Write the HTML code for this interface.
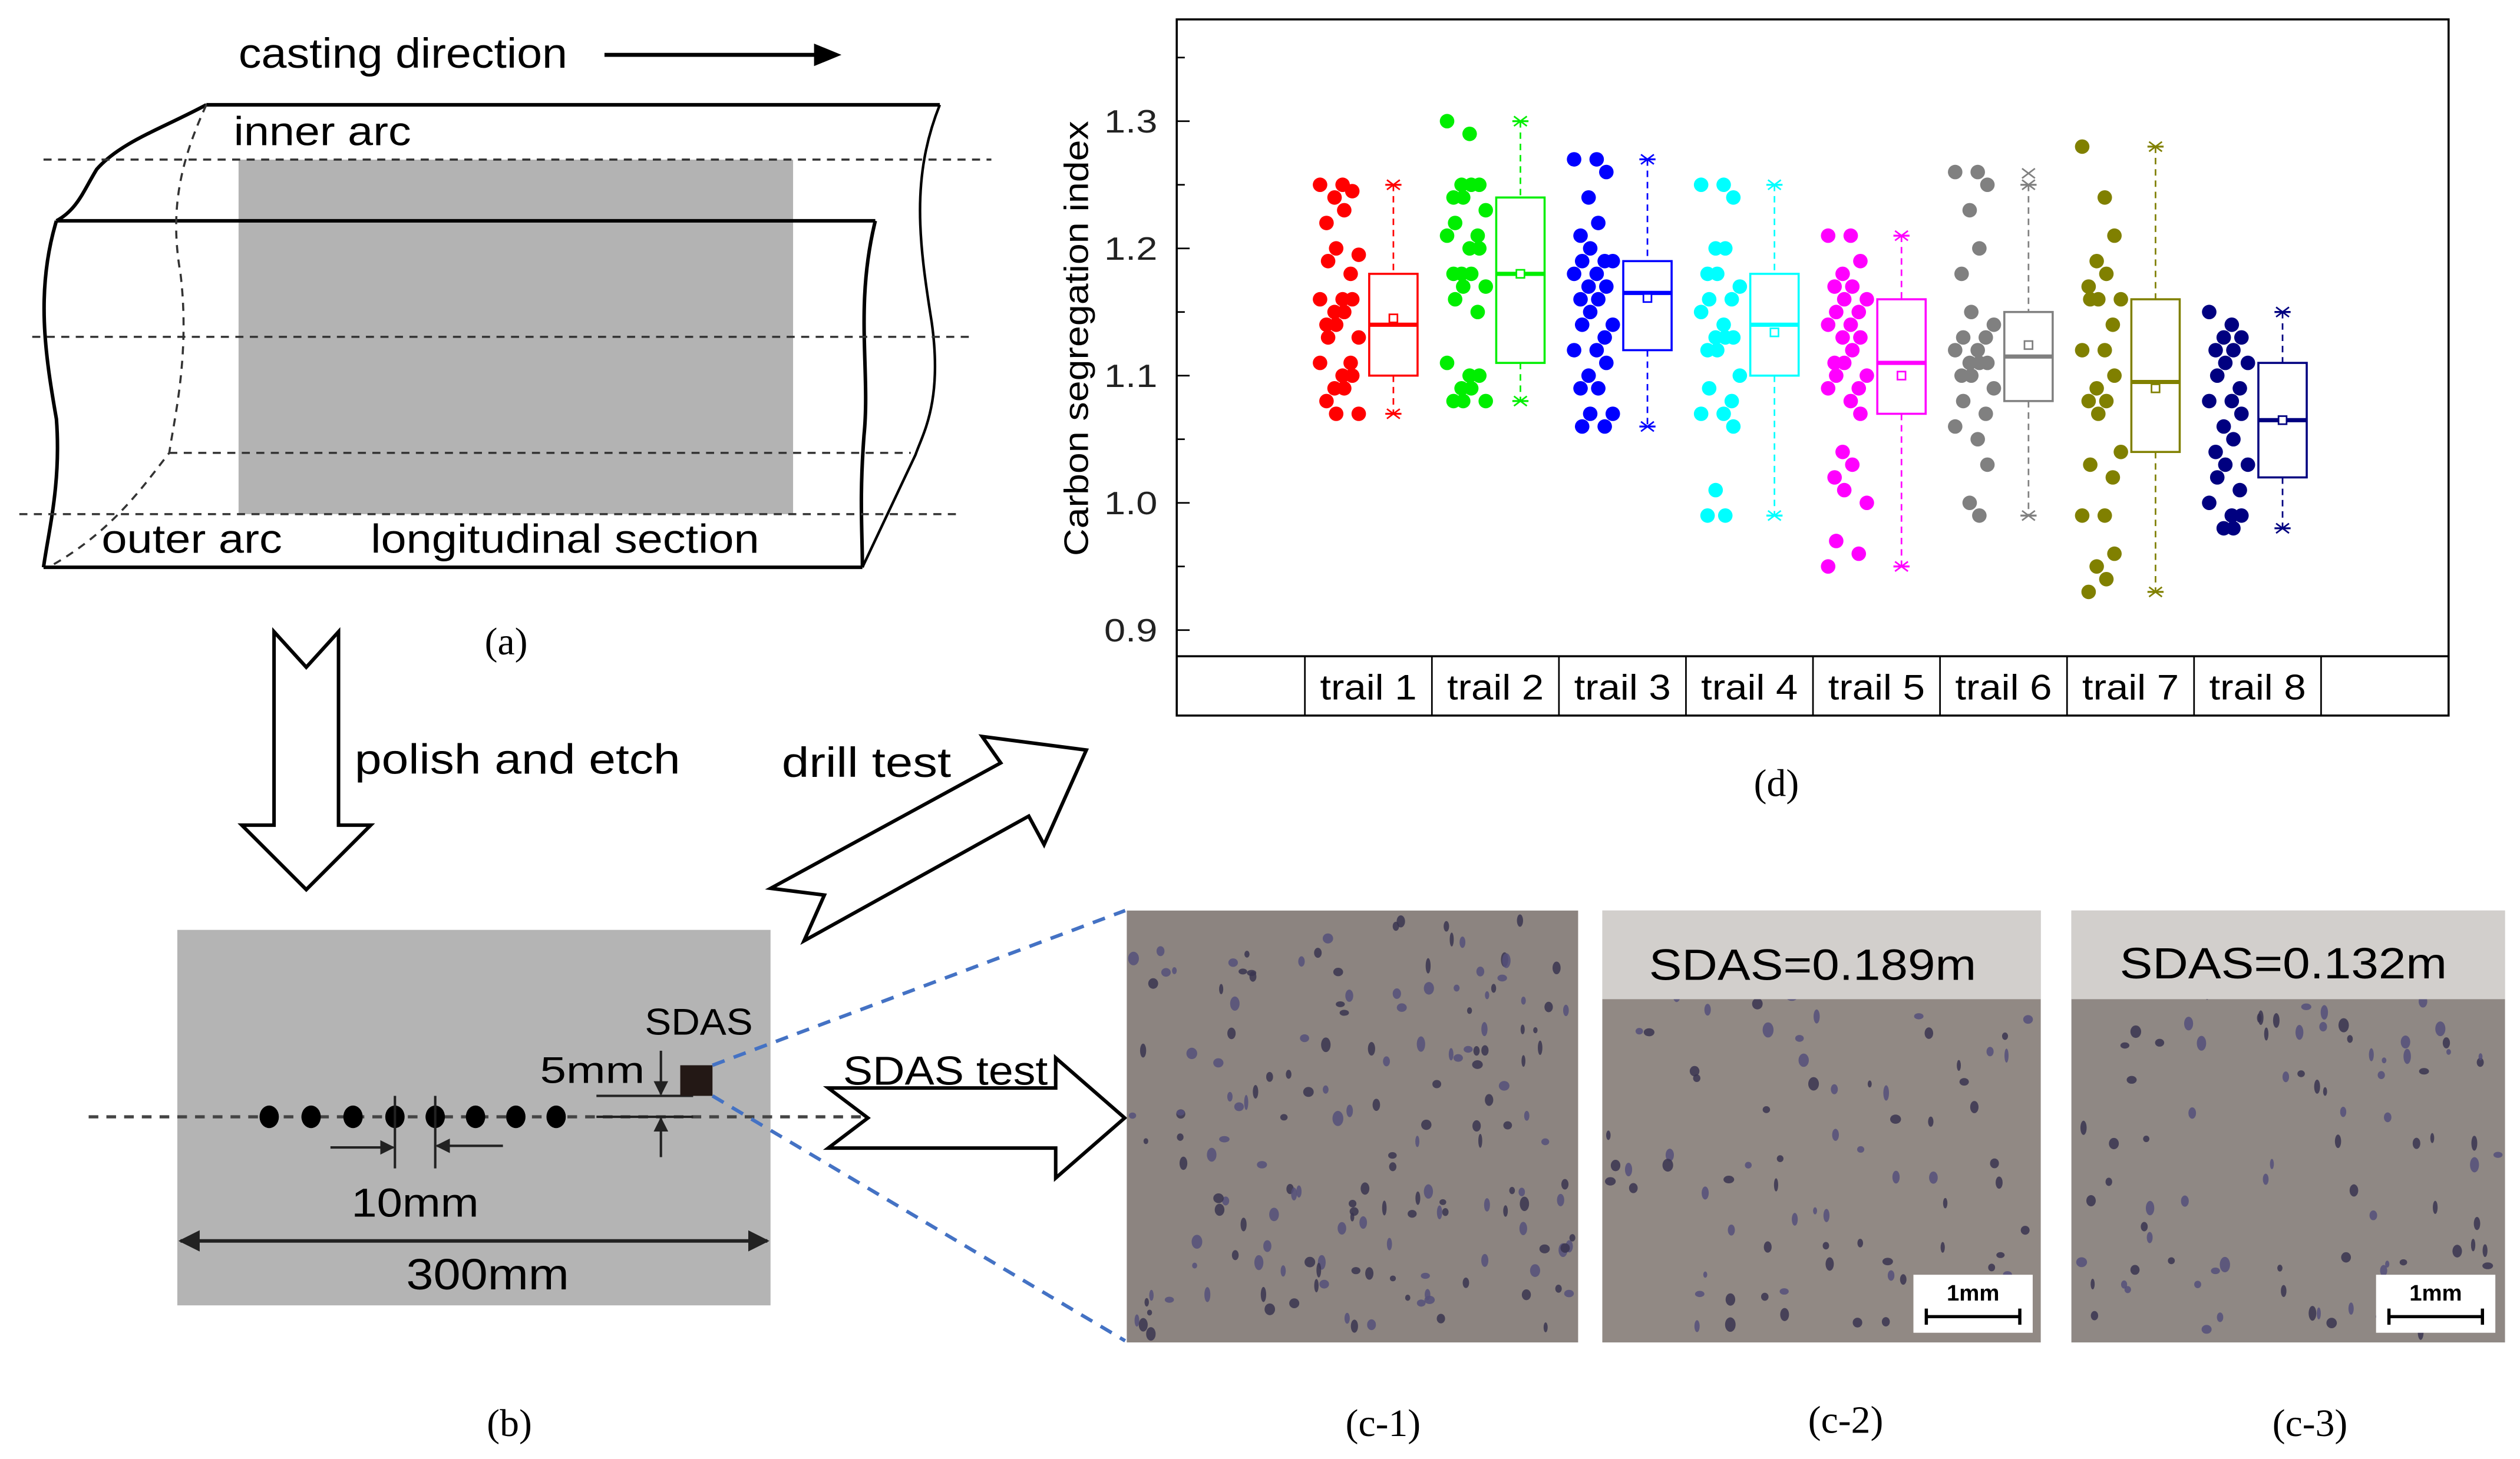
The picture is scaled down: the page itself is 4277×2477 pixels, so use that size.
<!DOCTYPE html>
<html><head><meta charset="utf-8"><title>Carbon segregation figure</title>
<style>html,body{margin:0;padding:0;background:#fff}svg{display:block}text{font-family:"Liberation Sans",sans-serif}</style>
</head><body>
<svg id="root" xmlns="http://www.w3.org/2000/svg" width="4277" height="2477" viewBox="0 0 1563.3 905.3">
<defs>
<marker id="ah" viewBox="0 0 10 10" refX="9" refY="5" markerWidth="6" markerHeight="6" orient="auto-start-reverse"><path d="M0,0 L10,5 L0,10 z" fill="#222"/></marker>
</defs>
<g>
<text x="148" y="42" font-size="26" textLength="204" lengthAdjust="spacingAndGlyphs">casting direction</text>
<line x1="375" y1="34" x2="508" y2="34" stroke="#000" stroke-width="2.5"/>
<path d="M505,27 L522,34 L505,41 z" fill="#000"/>
<rect x="148" y="99" width="344" height="220" fill="#b3b3b3"/>
<g stroke="#000" stroke-width="2.2" fill="none">
<line x1="128" y1="65" x2="583" y2="65"/>
<line x1="35" y1="137" x2="543" y2="137"/>
<line x1="27" y1="352" x2="535" y2="352"/>
<path d="M35,137 C48,130 52,118 60,105 C75,88 100,80 128,65"/>
<path d="M35,137 C22,180 28,220 35,260 C38,300 30,330 27,352"/>
<path d="M543,137 C530,190 540,230 536,270 C533,310 535,330 535,352"/>
<path d="M583,65 C565,110 570,150 578,200 C585,250 572,270 568,282 L535,352" stroke-width="1.6"/>
</g>
<g stroke="#333" stroke-width="1.3" fill="none" stroke-dasharray="5,4">
<path d="M128,65 C112,100 105,130 112,170 C118,220 108,260 105,281 C90,300 70,330 30,352"/>
<line x1="27" y1="99" x2="615" y2="99"/>
<line x1="20" y1="209" x2="605" y2="209"/>
<line x1="105" y1="281" x2="565" y2="281"/>
<line x1="12" y1="319" x2="597" y2="319"/>
</g>
<text x="145" y="90" font-size="25" textLength="110" lengthAdjust="spacingAndGlyphs">inner arc</text>
<text x="63" y="343" font-size="25" textLength="112" lengthAdjust="spacingAndGlyphs">outer arc</text>
<text x="230" y="343" font-size="25" textLength="241" lengthAdjust="spacingAndGlyphs">longitudinal section</text>
<text x="314" y="406" font-size="24" text-anchor="middle" style="font-family:'Liberation Serif',serif">(a)</text>
</g>
<path d="M170,392 L190,414 L210,392 L210,512 L230,512 L190,552 L150,512 L170,512 Z" fill="#fff" stroke="#000" stroke-width="2.2"/>
<text x="220" y="480" font-size="26" textLength="202" lengthAdjust="spacingAndGlyphs">polish and etch</text>
<g>
<rect x="110" y="577" width="368" height="233" fill="#b4b4b4"/>
<line x1="55" y1="693" x2="540" y2="693" stroke="#444" stroke-width="2" stroke-dasharray="6,5"/>
<g fill="#000">
<ellipse cx="167" cy="693" rx="6" ry="7"/><ellipse cx="193" cy="693" rx="6" ry="7"/><ellipse cx="219" cy="693" rx="6" ry="7"/><ellipse cx="245" cy="693" rx="6" ry="7"/><ellipse cx="270" cy="693" rx="6" ry="7"/><ellipse cx="295" cy="693" rx="6" ry="7"/><ellipse cx="320" cy="693" rx="6" ry="7"/><ellipse cx="345" cy="693" rx="6" ry="7"/>
</g>
<g stroke="#222" stroke-width="1.5">
<line x1="245" y1="680" x2="245" y2="725"/><line x1="270" y1="680" x2="270" y2="725"/>
<line x1="205" y1="712" x2="244" y2="712" marker-end="url(#ah)"/>
<line x1="312" y1="711" x2="271" y2="711" marker-end="url(#ah)"/>
<line x1="370" y1="680" x2="430" y2="680"/><line x1="370" y1="693" x2="430" y2="693"/>
<line x1="410" y1="652" x2="410" y2="679" marker-end="url(#ah)"/>
<line x1="410" y1="718" x2="410" y2="694" marker-end="url(#ah)"/>
<line x1="112" y1="770" x2="476" y2="770" stroke-width="2.2" marker-start="url(#ah)" marker-end="url(#ah)"/>
</g>
<rect x="422" y="661" width="20" height="19" fill="#231815"/>
<text x="400" y="642" font-size="23" textLength="67" lengthAdjust="spacingAndGlyphs">SDAS</text>
<text x="335" y="672" font-size="23" textLength="65" lengthAdjust="spacingAndGlyphs">5mm</text>
<text x="218" y="755" font-size="25" textLength="79" lengthAdjust="spacingAndGlyphs">10mm</text>
<text x="252" y="800" font-size="27" textLength="101" lengthAdjust="spacingAndGlyphs">300mm</text>
<text x="316" y="891" font-size="24" text-anchor="middle" style="font-family:'Liberation Serif',serif">(b)</text>
</g>
<g stroke="#4472c4" stroke-width="2.2" stroke-dasharray="8,6" fill="none">
<line x1="442" y1="661" x2="698" y2="565"/><line x1="442" y1="680" x2="698" y2="832"/>
</g>
<path d="M609.3,457 L673.9,465.4 L647.7,524.1 L638.2,506.4 L498.8,583.8 L511.4,555.4 L478.1,551.2 L620.8,473.4 Z" fill="#fff" stroke="#000" stroke-width="2.2"/>
<text x="485" y="482" font-size="26" textLength="105" lengthAdjust="spacingAndGlyphs">drill test</text>
<path d="M513.8,675.1 L654.9,675.1 L654.9,656.4 L697.7,693.7 L654.9,731 L654.9,712.4 L513.8,712.4 L538.4,693.7 Z" fill="#fff" stroke="#000" stroke-width="2.2"/>
<text x="523" y="673" font-size="25" textLength="127" lengthAdjust="spacingAndGlyphs">SDAS test</text>
<g id="photos">
<rect x="699" y="565" width="280" height="268" fill="#8c8480"/>
<rect x="994" y="565" width="272" height="268" fill="#918984"/>
<rect x="1285" y="565" width="269" height="268" fill="#8f8884"/>
<g id="spots"></g>
<rect x="994" y="565" width="272" height="55" fill="#d2cfcc"/>
<rect x="1285" y="565" width="269" height="55" fill="#d2cfcc"/>
<text x="1023" y="608" font-size="27" textLength="203" lengthAdjust="spacingAndGlyphs">SDAS=0.189m</text>
<text x="1315" y="607" font-size="27" textLength="203" lengthAdjust="spacingAndGlyphs">SDAS=0.132m</text>
<g>
<rect x="1187" y="791" width="74" height="36" fill="#fff"/>
<text x="1224" y="807" font-size="14" font-weight="bold" text-anchor="middle">1mm</text>
<path d="M1195,812 v10 M1195,817 H1253 M1253,812 v10" stroke="#000" stroke-width="2" fill="none"/>
</g>
<g>
<rect x="1474" y="791" width="74" height="36" fill="#fff"/>
<text x="1511" y="807" font-size="14" font-weight="bold" text-anchor="middle">1mm</text>
<path d="M1482,812 v10 M1482,817 H1540 M1540,812 v10" stroke="#000" stroke-width="2" fill="none"/>
</g>
</g>
<text x="858" y="891" font-size="24" text-anchor="middle" style="font-family:'Liberation Serif',serif">(c-1)</text>
<text x="1145" y="889" font-size="24" text-anchor="middle" style="font-family:'Liberation Serif',serif">(c-2)</text>
<text x="1433" y="891" font-size="24" text-anchor="middle" style="font-family:'Liberation Serif',serif">(c-3)</text>
<text x="1102" y="494" font-size="24" text-anchor="middle" style="font-family:'Liberation Serif',serif">(d)</text>
<g id="chart"></g>
</svg>
<script>
const categories = ["trail 1","trail 2","trail 3","trail 4","trail 5","trail 6","trail 7","trail 8"];
const colors = ["#ff0000","#00ee00","#0000ff","#00ffff","#ff00ff","#808080","#808000","#000080"];
const whiskerHigh = [1.25,1.30,1.27,1.25,1.21,1.25,1.28,1.15];
const boxHigh = [1.18,1.24,1.19,1.18,1.16,1.15,1.16,1.11];
const medians = [1.14,1.18,1.165,1.14,1.11,1.115,1.095,1.065];
const means = [1.145,1.18,1.161,1.134,1.10,1.124,1.09,1.065];
const boxLow = [1.10,1.11,1.12,1.10,1.07,1.08,1.04,1.02];
const whiskerLow = [1.07,1.08,1.06,0.99,0.95,0.99,0.93,0.98];
const outlierHigh = [null,null,null,null,null,1.259,null,null];
const pts1 = [1.25,1.25,1.245,1.24,1.23,1.22,1.20,1.195,1.19,1.18,1.16,1.16,1.16,1.15,1.15,1.14,1.14,1.13,1.13,1.11,1.11,1.10,1.10,1.09,1.09,1.08,1.07,1.07];
const pts2 = [1.30,1.29,1.25,1.25,1.25,1.24,1.24,1.23,1.22,1.21,1.21,1.20,1.20,1.18,1.18,1.18,1.17,1.17,1.16,1.15,1.11,1.10,1.10,1.09,1.09,1.08,1.08,1.08];
const pts3 = [1.27,1.27,1.26,1.24,1.22,1.21,1.20,1.19,1.19,1.19,1.18,1.18,1.17,1.17,1.16,1.16,1.15,1.14,1.14,1.13,1.12,1.12,1.11,1.10,1.09,1.09,1.07,1.07,1.06,1.06];
const pts4 = [1.25,1.25,1.24,1.20,1.20,1.18,1.18,1.17,1.16,1.16,1.15,1.14,1.13,1.13,1.13,1.12,1.12,1.10,1.09,1.08,1.07,1.07,1.06,1.01,0.99,0.99];
const pts5 = [1.21,1.21,1.19,1.18,1.17,1.17,1.16,1.16,1.15,1.15,1.14,1.14,1.13,1.13,1.12,1.11,1.11,1.10,1.10,1.09,1.09,1.08,1.07,1.04,1.03,1.02,1.01,1.00,0.97,0.96,0.95];
const pts6 = [1.26,1.26,1.25,1.23,1.20,1.18,1.15,1.14,1.13,1.13,1.12,1.12,1.11,1.11,1.11,1.10,1.10,1.09,1.08,1.07,1.06,1.05,1.03,1.00,0.99];
const pts7 = [1.28,1.24,1.21,1.19,1.18,1.17,1.16,1.16,1.16,1.14,1.12,1.12,1.10,1.09,1.08,1.08,1.07,1.04,1.03,1.02,0.99,0.99,0.96,0.95,0.94,0.93];
const pts8 = [1.15,1.14,1.13,1.13,1.12,1.12,1.11,1.11,1.10,1.09,1.08,1.08,1.07,1.06,1.05,1.04,1.03,1.03,1.02,1.01,1.00,0.99,0.99,0.98,0.98];
const points = [pts1,pts2,pts3,pts4,pts5,pts6,pts7,pts8];
const yTicks = [0.9,1.0,1.1,1.2,1.3];
const yTickLabels = ["0.9","1.0","1.1","1.2","1.3"];
const yMinorTicks = [0.95,1.05,1.15,1.25,1.35];

const NS = "http://www.w3.org/2000/svg";
const L = 730, R = 1519, T = 12, PB = 407.2, B = 444;
const catStart = 809.5, catW = 78.8;
function yScale(v){ return 75.15 + (1.3 - v) * 789.5; }
function xScale(i){ return catStart + catW * (i + 0.5); }
function mk(tag, attrs, parent){ const e = document.createElementNS(NS, tag); for (const k in attrs) e.setAttribute(k, attrs[k]); parent.appendChild(e); return e; }
const chart = document.getElementById('chart');

const frame = mk('rect', {x:L, y:T, width:R-L, height:B-T, fill:'none', stroke:'#000', 'stroke-width':1.3}, chart);


mk('line', {x1:L, y1:PB, x2:R, y2:PB, stroke:'#000', 'stroke-width':1.3}, chart);
for (let i = 0; i <= categories.length; i++) {
  mk('line', {x1:catStart + catW*i, y1:PB, x2:catStart + catW*i, y2:B, stroke:'#000', 'stroke-width':1}, chart);
}
categories.forEach((c, i) => {
  const t = mk('text', {x:xScale(i)-30, y:434, 'font-size':22, textLength:60, lengthAdjust:'spacingAndGlyphs'}, chart);
  t.textContent = c;
  
  
});
yTicks.forEach((v, i) => {
  mk('line', {x1:L, y1:yScale(v), x2:L+8, y2:yScale(v), stroke:'#000', 'stroke-width':1}, chart);
  const t = mk('text', {x:L-45, y:yScale(v)+7, 'font-size':20, fill:'#222', textLength:33, lengthAdjust:'spacingAndGlyphs'}, chart);
  t.textContent = yTickLabels[i];
  
  
});
yMinorTicks.forEach(v => { mk('line', {x1:L, y1:yScale(v), x2:L+5, y2:yScale(v), stroke:'#000', 'stroke-width':1}, chart); });
const yt = mk('text', {x:-135, y:0, 'font-size':21, textLength:270, lengthAdjust:'spacingAndGlyphs', transform:'translate(675,210) rotate(-90)'}, chart);
yt.textContent = 'Carbon segregation index';



function star(g, cx, cy, col){
  mk('line', {x1:cx-4, y1:cy-3, x2:cx+4, y2:cy+3, stroke:col, 'stroke-width':1}, g);
  mk('line', {x1:cx-4, y1:cy+3, x2:cx+4, y2:cy-3, stroke:col, 'stroke-width':1}, g);
}
categories.forEach((c, i) => {
  const col = colors[i];
  const g = mk('g', {}, chart);
  
  
  const bx = xScale(i) + 15.5, bw = 30;
  const dash = {stroke:col, 'stroke-width':1, 'stroke-dasharray':'4,3'};
  mk('line', Object.assign({x1:bx, y1:yScale(whiskerHigh[i]), x2:bx, y2:yScale(boxHigh[i])}, dash), g);
  mk('line', Object.assign({x1:bx, y1:yScale(boxLow[i]), x2:bx, y2:yScale(whiskerLow[i])}, dash), g);
  mk('line', {x1:bx-5, y1:yScale(whiskerHigh[i]), x2:bx+5, y2:yScale(whiskerHigh[i]), stroke:col, 'stroke-width':1.2}, g);
  mk('line', {x1:bx-5, y1:yScale(whiskerLow[i]), x2:bx+5, y2:yScale(whiskerLow[i]), stroke:col, 'stroke-width':1.2}, g);
  star(g, bx, yScale(whiskerHigh[i]), col);
  star(g, bx, yScale(whiskerLow[i]), col);
  if (outlierHigh[i] !== null) star(g, bx, yScale(outlierHigh[i]), col);
  const box = mk('rect', {x:bx-bw/2, y:yScale(boxHigh[i]), width:bw, height:yScale(boxLow[i])-yScale(boxHigh[i]), fill:'none', stroke:col, 'stroke-width':1.3}, g);
  
  
  mk('line', {x1:bx-bw/2, y1:yScale(medians[i]), x2:bx+bw/2, y2:yScale(medians[i]), stroke:col, 'stroke-width':2.6}, g);
  mk('rect', {x:bx-2.5, y:yScale(means[i])-2.5, width:5, height:5, fill:'#fff', stroke:col, 'stroke-width':1}, g);
  const px = xScale(i) - 18;
  points[i].forEach((v, k) => {
    const jit = ((k * 7) % 5 - 2) * 5 + ((k % 2) ? 2 : -2);
    const p = mk('circle', {cx:px + jit, cy:yScale(v), r:4.5, fill:col}, g);
    
    
  });
});

const spots = document.getElementById('spots');
let seed = 12345;
function rnd(){ seed = (seed * 1103515245 + 12345) % 2147483648; return seed / 2147483648; }
[[699,979,0],[994,1266,1],[1285,1554,2]].forEach(([x0,x1,k]) => {
  const n = k === 0 ? 170 : 110;
  for (let j = 0; j < n; j++) {
    const cx = x0 + 3 + rnd()*(x1-x0-6), cy = 568 + rnd()*262;
    const rx = 1.2 + rnd()*2.2, ry = 1.8 + rnd()*3;
    mk('ellipse', {cx:cx, cy:cy, rx:rx, ry:ry, fill: rnd()<0.5 ? '#3a3550' : '#55507a', opacity:0.85}, spots);
  }
});
</script>
</body></html>
